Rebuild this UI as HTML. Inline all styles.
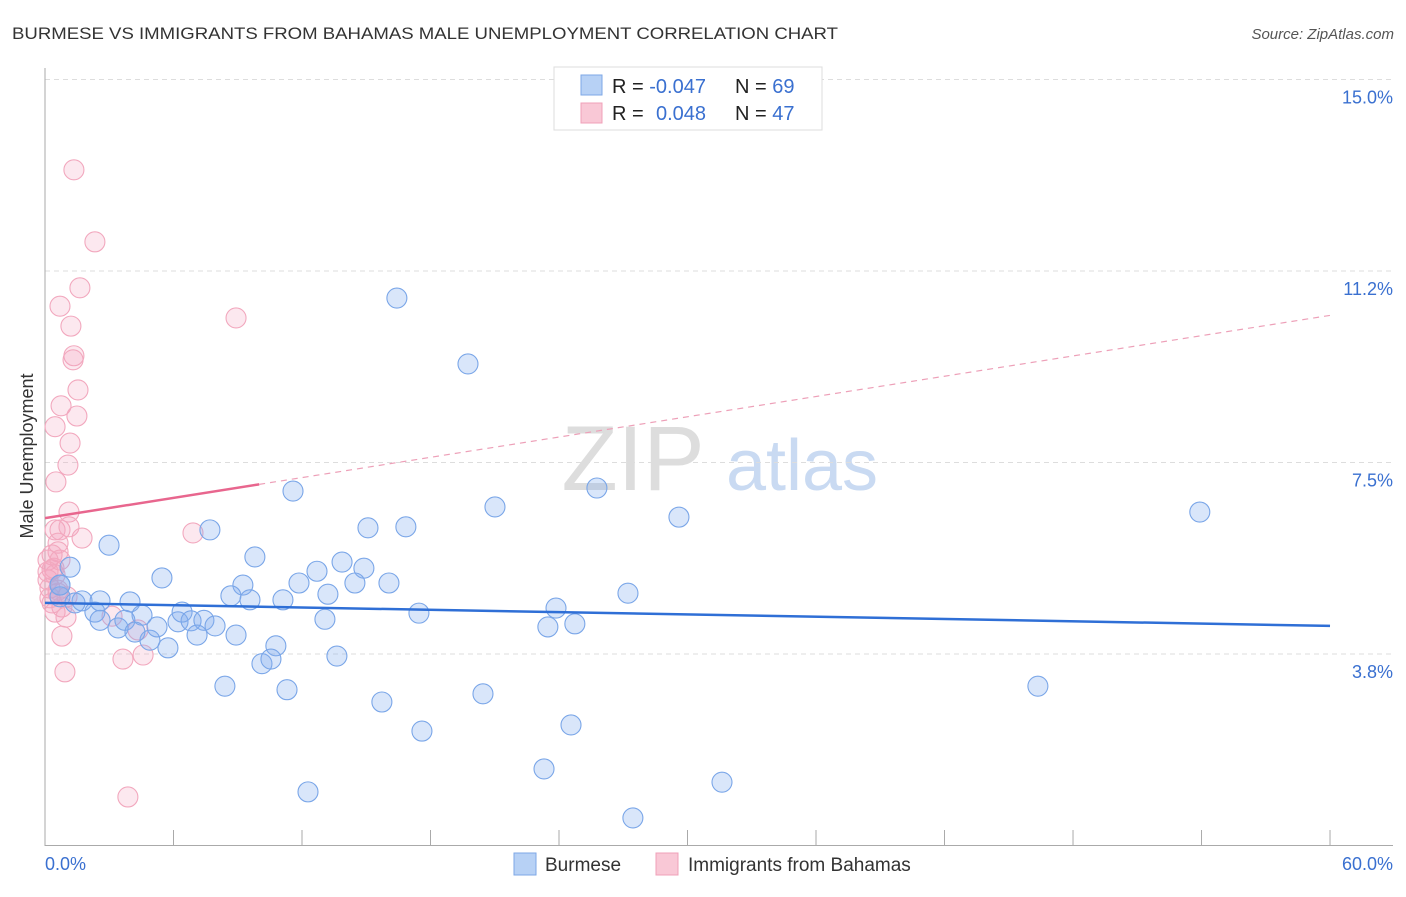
<!DOCTYPE html>
<html><head><meta charset="utf-8"><style>
body{margin:0;background:#fff;font-family:"Liberation Sans",sans-serif}
svg text{font-family:"Liberation Sans",sans-serif}
</style></head><body>
<svg id="c" width="1406" height="892">
<text x="12" y="39" font-size="17" fill="#333" textLength="826" lengthAdjust="spacingAndGlyphs">BURMESE VS IMMIGRANTS FROM BAHAMAS MALE UNEMPLOYMENT CORRELATION CHART</text>
<text x="1394" y="39" font-size="15" fill="#555" font-style="italic" text-anchor="end">Source: ZipAtlas.com</text>
<text x="33" y="456" font-size="18" fill="#333" text-anchor="middle" transform="rotate(-90 33 456)">Male Unemployment</text>
<g><text x="633" y="490" font-size="92" fill="#ddd" font-family="Liberation Serif" text-anchor="middle">ZIP</text><text x="802" y="490" font-size="72" fill="#c9daf2" text-anchor="middle">atlas</text></g>
<g id="grid"></g><g id="axes"></g><g id="pts"></g><g id="trend"></g>
<g>
<rect x="554" y="67" width="268" height="63" fill="#fff" stroke="#ddd"/>
<rect x="581" y="75" width="21" height="20" fill="#b7d1f5" stroke="#7ea7e6"/>
<rect x="581" y="103" width="21" height="20" fill="#f9c8d6" stroke="#f0a0b8"/>
<text x="612" y="93" font-size="20" fill="#222">R = <tspan fill="#3a70d0">-0.047</tspan><tspan x="735">N = </tspan><tspan fill="#3a70d0">69</tspan></text>
<text x="612" y="120" font-size="20" fill="#222">R = <tspan x="656" fill="#3a70d0">0.048</tspan><tspan x="735">N = </tspan><tspan fill="#3a70d0">47</tspan></text>
</g>
<g>
<rect x="514" y="853" width="22" height="22" fill="#b7d1f5" stroke="#7ea7e6"/>
<text x="545" y="871" font-size="19" fill="#333">Burmese</text>
<rect x="656" y="853" width="22" height="22" fill="#f9c8d6" stroke="#f0a0b8"/>
<text x="688" y="871" font-size="19" fill="#333">Immigrants from Bahamas</text>
</g>
</svg>
<script>
const yTicks=[3.75,7.5,11.25,15];
const yTickLabels=["3.8%","7.5%","11.2%","15.0%"];
const xTickLabels=["0.0%","60.0%"];
const blueX=[16.43,19.75,11.58,21.01,25.77,29.6,53.92,7.70,15.08,16.85,2.99,9.80,13.87,1.17,5.46,12.70,14.89,9.24,11.86,14.47,16.06,8.68,9.57,11.11,13.21,27.22,23.86,17.46,3.97,1.73,0.70,0.70,1.40,2.33,2.57,3.41,4.53,3.73,4.90,5.23,6.21,6.40,6.82,7.42,7.94,7.10,5.74,8.92,13.07,23.48,24.74,10.78,10.13,10.55,13.63,8.40,11.30,15.73,20.45,46.36,24.56,17.60,23.30,31.61,12.28,27.45,2.57,0.70,4.20];
const blueY=[10.72,9.43,6.94,6.63,7.00,6.43,6.53,6.18,6.22,6.24,5.88,5.65,5.55,5.45,5.24,5.37,5.43,5.10,5.14,5.14,5.14,4.89,4.81,4.81,4.92,4.94,4.65,4.55,4.77,4.79,4.87,5.10,4.75,4.57,4.41,4.26,4.51,4.41,4.02,4.28,4.38,4.57,4.40,4.41,4.30,4.12,3.87,4.12,4.43,4.28,4.34,3.91,3.56,3.65,3.71,3.12,3.05,2.81,2.97,3.12,2.36,2.24,1.50,1.24,1.05,0.54,4.79,5.10,4.18];
const pinkX=[1.35,2.33,1.63,0.70,1.21,1.35,1.31,1.54,0.75,1.49,0.47,1.17,1.07,0.51,1.12,8.92,6.91,0.47,0.70,1.12,0.61,1.73,0.33,0.61,0.14,0.33,0.47,0.14,0.23,0.61,1.03,0.33,0.79,0.47,0.98,3.13,0.79,4.34,3.64,4.58,0.93,3.87,0.61,0.23,0.42,0.70,0.14];
const pinkY=[13.23,11.82,10.92,10.56,10.17,9.59,9.51,8.92,8.61,8.41,8.20,7.88,7.45,7.12,6.53,10.33,6.12,6.18,6.18,6.24,5.92,6.02,5.69,5.75,5.59,5.40,5.30,5.20,5.04,5.00,4.87,4.75,4.67,4.57,4.47,4.49,4.10,4.22,3.65,3.73,3.40,0.95,4.94,4.85,5.43,5.59,5.36];
const blueTrend=[4.75,4.30];
const pinkTrend=[6.41,10.38];
const NS="http://www.w3.org/2000/svg";
const X=v=>45+v*21.417, Y=v=>845.5-v*51.07;
function mk(tag,attrs,parent){const e=document.createElementNS(NS,tag);for(const k in attrs)e.setAttribute(k,attrs[k]);parent.appendChild(e);return e;}
const grid=document.getElementById('grid'),axes=document.getElementById('axes'),pts=document.getElementById('pts'),tr=document.getElementById('trend');
yTicks.forEach((t,i)=>{
 const l=mk('line',{x1:45,x2:1393,y1:Y(t),y2:Y(t),stroke:'#ddd','stroke-dasharray':'5,4'},grid);
 
 
 const tx=mk('text',{x:1393,y:Y(t)+24,'font-size':18,fill:'#3a70d0','text-anchor':'end'},grid);
 tx.textContent=yTickLabels[i];
 
 
});
mk('line',{x1:45,x2:45,y1:68,y2:846,stroke:'#aaa'},axes);
mk('line',{x1:45,x2:1393,y1:845.5,y2:845.5,stroke:'#aaa'},axes);
for(let i=0;i<=10;i++){const l=mk('line',{x1:X(i*6),x2:X(i*6),y1:830,y2:846,stroke:'#aaa'},axes);
 
 }
const xl0=mk('text',{x:45,y:870,'font-size':18,fill:'#3a70d0'},axes);xl0.textContent=xTickLabels[0];


const xl1=mk('text',{x:1393,y:870,'font-size':18,fill:'#3a70d0','text-anchor':'end'},axes);xl1.textContent=xTickLabels[1];


pinkX.forEach((x,i)=>{const c=mk('circle',{cx:X(x),cy:Y(pinkY[i]),r:10,fill:'rgba(245,165,190,0.25)',stroke:'#f2a8be','stroke-width':1.1},pts);
 
 });
blueX.forEach((x,i)=>{const c=mk('circle',{cx:X(x),cy:Y(blueY[i]),r:10,fill:'rgba(130,172,238,0.3)',stroke:'#7aa6e8','stroke-width':1.1},pts);
 
 });
const bt=mk('line',{x1:X(0),y1:Y(blueTrend[0]),x2:X(60),y2:Y(blueTrend[1]),stroke:'#2f6fd6','stroke-width':2.5},tr);


const pAt=x=>pinkTrend[0]+(pinkTrend[1]-pinkTrend[0])*x/60;
const ps=mk('line',{x1:X(0),y1:Y(pAt(0)),x2:X(10),y2:Y(pAt(10)),stroke:'#e8668e','stroke-width':2.5},tr);


const pd=mk('line',{x1:X(10),y1:Y(pAt(10)),x2:X(60),y2:Y(pAt(60)),stroke:'#eda0b8','stroke-width':1.2,'stroke-dasharray':'6,5'},tr);


</script>
</body></html>
